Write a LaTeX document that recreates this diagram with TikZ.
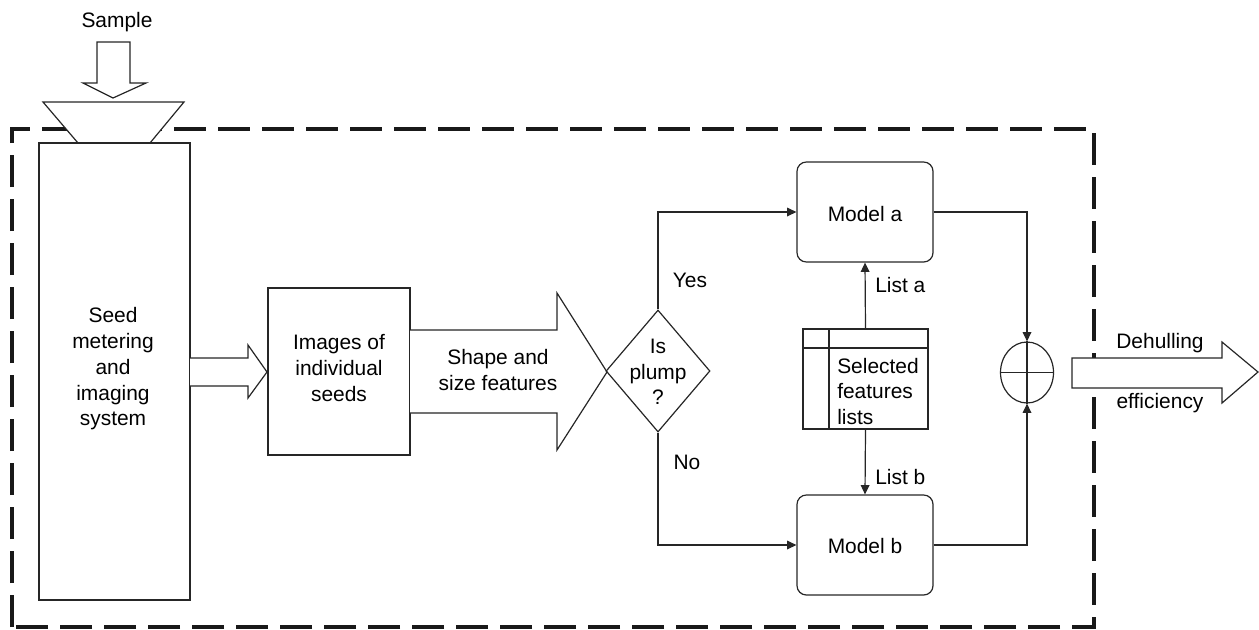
\documentclass[tikz,border=0pt]{standalone}
\usepackage{fontspec}
\setmainfont{Liberation Sans}
\usetikzlibrary{shapes.geometric,arrows.meta}
\tikzset{
  txt/.style={inner sep=0pt, align=center, font=\fontsize{15.7pt}{19.3pt}\selectfont},
  ln/.style={line width=0.9pt, draw=black!85},
  boxsq/.style={draw=black!85, line width=0.9pt, rectangle, inner sep=0pt},
  modelbox/.style={draw=black!85, line width=0.9pt, rectangle, rounded corners=7pt, inner sep=0pt, minimum width=102pt, minimum height=75pt},
  arr/.style={ln, -{Triangle[length=7pt,width=6.5pt]}},
  fatarrow/.style={draw=black!85, line width=0.9pt, fill=white, line join=miter},
  dashbox/.style={line width=3pt, draw=black!90, dash pattern=on 24pt off 9pt}
}
\begin{document}
\begin{tikzpicture}[x=0.75pt,y=-0.75pt]
\path[use as bounding box] (0,0) rectangle (1259,629);

% dashed system boundary
\draw[dashbox] (12,627) -- (12,129) -- (1094,129) -- (1094,627) -- cycle;

% sample label and arrow
\node[txt] (sample) at (117,22) {Sample};
\draw[fatarrow] (97,42) -- (130,42) -- (130,83) -- (146,83) -- (113,98) -- (83,83) -- (97,83) -- cycle;

% funnel
\draw[fatarrow] (43,102) -- (184,102) -- (150,143) -- (78,143) -- cycle;

% seed metering system
\node[boxsq, minimum width=113.25pt, minimum height=342.75pt] (seed) at (114.5,371.5) {};
\node[txt] (seedtxt) at (113,369) {Seed\\metering\\and\\imaging\\system};

% small arrow
\draw[fatarrow] (190,358) -- (248,358) -- (248,345) -- (267,372) -- (248,398) -- (248,386) -- (190,386);

% images box
\node[boxsq, minimum width=106.5pt, minimum height=125.25pt] (img) at (339,371.5) {};
\node[txt] (imgtxt) at (339,368) {Images of\\individual\\seeds};

% big arrow
\draw[fatarrow] (410,330) -- (557,330) -- (557,293) -- (607,372) -- (557,450) -- (557,413) -- (410,413);
\node[txt] (shape) at (498,370) {Shape and\\size features};

% decision diamond
\node[diamond, draw=black!85, line width=0.9pt, minimum width=78pt, minimum height=91.5pt, inner sep=0pt] (dia) at (658,371) {};
\node[txt] (diatxt) at (658,372) {Is\\plump\\?};

% models
\node[modelbox] (ma) at (865,212) {};
\node[txt] at (865,214) {Model a};
\node[modelbox] (mb) at (865,545) {};
\node[txt] at (865,546) {Model b};

% selected features lists
\node[boxsq, minimum width=93.75pt, minimum height=75pt] (sel) at (865.5,379) {};
\draw[ln] (829,329) -- (829,429);
\draw[ln] (803,348) -- (928,348);
\node[txt, anchor=west, align=left] (seltxt) at (837,391.5) {Selected\\features\\lists};

% combiner
\node[ellipse, draw=black!85, line width=0.9pt, minimum width=39.75pt, minimum height=45.75pt, inner sep=0pt] (ell) at (1027,372.5) {};
\draw[ln] (ell.north) -- (ell.south);
\draw[ln] (ell.west) -- (ell.east);

% connectors
\draw[arr] (dia.north) |- (ma.west);
\draw[arr] (dia.south) |- (mb.west);
\node[txt] (yes) at (690,280) {Yes};
\node[txt] (no) at (687,462) {No};
\draw[arr] (sel.north) -- (ma.south);
\draw[arr] (sel.south) -- (mb.north);
\node[txt, anchor=west] (lista) at (875,285) {List a};
\node[txt, anchor=west] (listb) at (875,477) {List b};
\draw[arr] (ma.east) -| (ell.north);
\draw[arr] (mb.east) -| (ell.south);

% output arrow
\draw[fatarrow] (1072,358) -- (1222,358) -- (1222,342) -- (1258,372) -- (1222,403) -- (1222,388) -- (1072,388) -- cycle;
\node[txt] (dehull) at (1160,343) {Dehulling};
\node[txt] (eff) at (1160,403) {efficiency};
\end{tikzpicture}
\end{document}
